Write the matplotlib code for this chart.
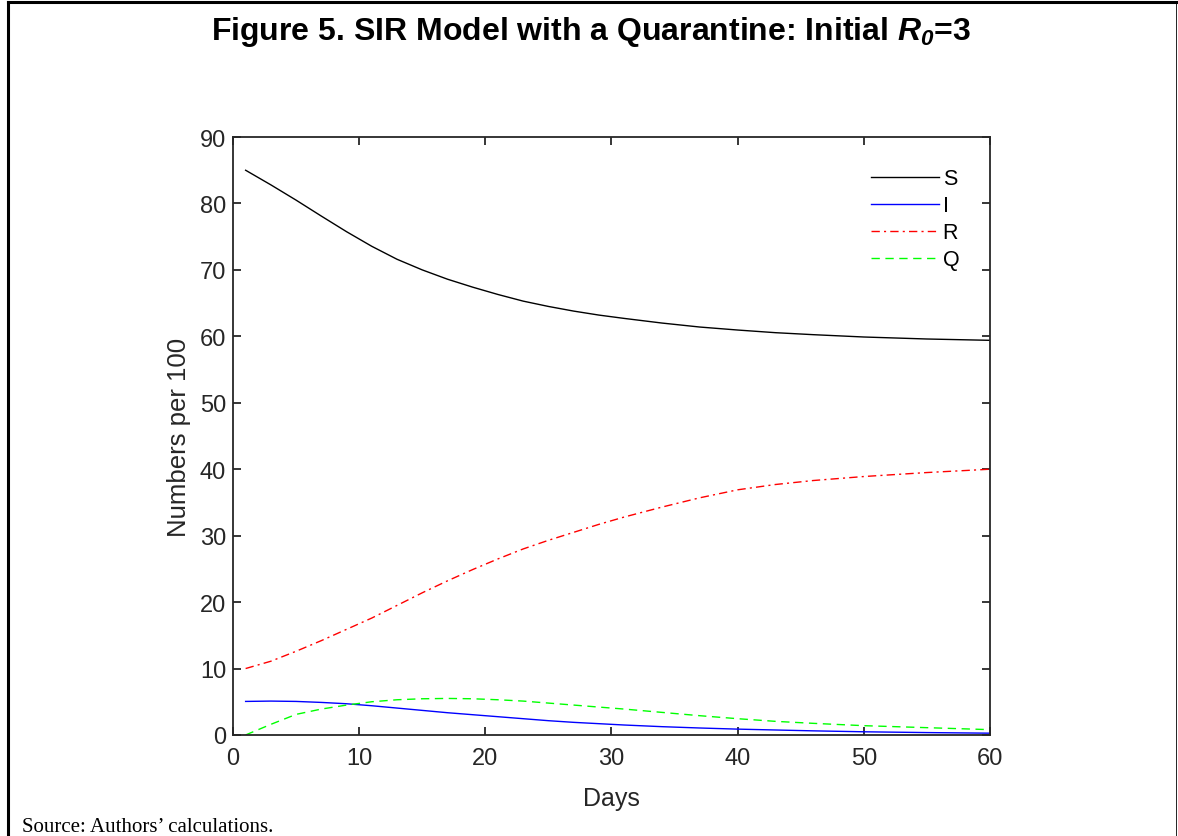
import numpy as np
import matplotlib
matplotlib.use("Agg")
import matplotlib.pyplot as plt
from matplotlib.lines import Line2D

plt.rcParams["font.family"] = ["Liberation Sans", "DejaVu Sans"]
plt.rcParams["mathtext.fontset"] = "custom"
plt.rcParams["mathtext.it"] = "Liberation Sans:italic:bold"
plt.rcParams["mathtext.rm"] = "Liberation Sans:italic:bold"

# values (numbers per 100, by day)
days = [1, 3, 5, 7, 9, 11, 13, 15, 17, 19, 21, 23, 25, 27, 29, 31,
        34, 37, 40, 43, 46, 50, 55, 60]
S = [85.0, 82.8, 80.5, 78.1, 75.75, 73.55, 71.6, 70.0, 68.6, 67.4, 66.3, 65.3,
     64.5, 63.8, 63.2, 62.7, 62.0, 61.4, 60.95, 60.55, 60.25, 59.9, 59.6, 59.4]
I = [5.05, 5.1, 5.05, 4.9, 4.7, 4.4, 4.05, 3.7, 3.35, 3.05, 2.75, 2.45,
     2.15, 1.9, 1.7, 1.5, 1.25, 1.05, 0.88, 0.75, 0.62, 0.48, 0.36, 0.27]
R = [10.0, 11.1, 12.6, 14.2, 15.9, 17.6, 19.5, 21.4, 23.2, 24.9, 26.5, 28.0,
     29.3, 30.5, 31.7, 32.8, 34.3, 35.7, 36.9, 37.7, 38.3, 38.9, 39.5, 40.0]
Q = [0.0, 1.6, 3.1, 3.9, 4.5, 5.0, 5.3, 5.45, 5.5, 5.45, 5.3, 5.1,
     4.8, 4.5, 4.2, 3.9, 3.4, 2.9, 2.45, 2.05, 1.75, 1.4, 1.1, 0.8]

fig = plt.figure(figsize=(11.78, 8.37), dpi=100)
ax = fig.add_axes([0.1978, 0.1207, 0.6426, 0.7144])

ax.plot(days, S, color="black", lw=1.0, label="S")
ax.plot(days, I, color="#0000ff", lw=1.0, label="I")
ax.plot(days, R, color="#ff0000", lw=1.0, ls=(0, (6, 3, 1.5, 3)), label="R")
ax.plot(days, Q, color="#00ff00", lw=1.0, ls=(0, (6, 4)), label="Q")

ax.set_xlim(0, 60)
ax.set_ylim(0, 90)
ax.set_xticks(np.arange(0, 61, 10))
ax.set_yticks(np.arange(0, 91, 10))
ax.tick_params(direction="in", length=6, width=1.3, top=True, right=True,
               labelsize=17, colors="#262626")
ax.tick_params(axis="x", pad=9)
ax.tick_params(axis="y", pad=5)
for sp in ax.spines.values():
    sp.set_linewidth(1.3)
    sp.set_color("#262626")

ax.set_xlabel("Days", fontsize=18, color="#262626", labelpad=12)
ax.set_ylabel("Numbers per 100", fontsize=18.5, color="#262626", labelpad=6)

leg = ax.legend(loc="upper right", frameon=False, fontsize=15.5,
                handlelength=3.2, handletextpad=0.15, labelspacing=0.28,
                bbox_to_anchor=(0.985, 0.98))

fig.text(0.502, 0.962, r"Figure 5. SIR Model with a Quarantine: Initial $\mathit{R_0}$=3",
         ha="center", va="center", fontsize=23, fontweight="bold")
fig.text(0.019, 0.0, "Source: Authors\u2019 calculations.",
         family="Liberation Serif", fontsize=15, ha="left", va="bottom")

# frame around the figure
fig.add_artist(Line2D([0.0072, 0.0072], [0.0, 0.9965], transform=fig.transFigure,
                      color="black", lw=2.2))
fig.add_artist(Line2D([0.0072, 0.9985], [0.9965, 0.9965], transform=fig.transFigure,
                      color="black", lw=2.2))
fig.add_artist(Line2D([0.9985, 0.9985], [0.0, 0.9965], transform=fig.transFigure,
                      color="black", lw=0.6))

fig.savefig("out.png", dpi=100)
